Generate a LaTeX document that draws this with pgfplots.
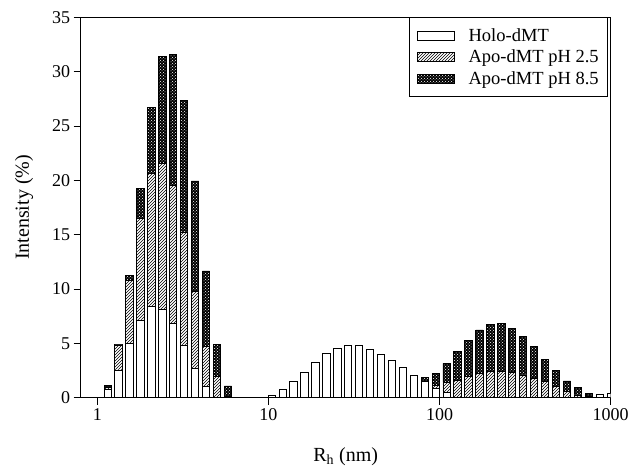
\documentclass[border=0pt]{standalone}
\usepackage{fontspec}
\setmainfont{Liberation Serif}
\usepackage{pgfplots}
\usepackage{pgfplotstable}
\pgfplotsset{compat=1.18}
\usetikzlibrary{patterns}

% x = bin centre R_h (nm); stacked intensities (%)
\pgfplotstableread{
x      holo  a25   a85
1.150  0.75  0.22  0.13
1.332  2.55  2.30  0.09
1.543  5.00  5.75  0.47
1.788  7.15  9.35  2.73
2.071  8.40  12.20 6.14
2.399  8.10  13.45 9.82
2.780  6.85  12.70 12.05
3.220  4.85  10.40 12.11
3.731  2.70  7.05  10.19
4.322  1.00  3.70  6.96
5.007  0.05  1.90  2.95
5.800  0.00  0.08  1.00
10.45  0.18  0.00  0.00
12.11  0.80  0.00  0.00
14.03  1.47  0.00  0.00
16.25  2.36  0.00  0.00
18.83  3.28  0.00  0.00
21.81  4.08  0.00  0.00
25.27  4.57  0.00  0.00
29.27  4.79  0.00  0.00
33.91  4.79  0.00  0.00
39.29  4.48  0.00  0.00
45.51  4.02  0.00  0.00
52.72  3.40  0.00  0.00
61.08  2.80  0.00  0.00
70.76  2.09  0.00  0.00
81.97  1.47  0.00  0.43
94.97  0.86  0.30  1.08
110.0  0.50  0.90  1.76
127.4  0.05  1.50  2.68
147.6  0.00  1.93  3.37
171.1  0.00  2.24  3.99
198.2  0.00  2.40  4.35
229.6  0.00  2.45  4.39
266.0  0.00  2.30  4.11
308.2  0.00  2.09  3.52
357.0  0.00  1.78  2.91
413.6  0.00  1.47  2.06
479.2  0.00  1.00  1.48
555.2  0.00  0.55  0.99
643.2  0.00  0.25  0.67
745.1  0.00  0.10  0.30
863.3  0.30  0.00  0.00
1000   0.40  0.00  0.00
}\dls

\begin{document}
\begin{tikzpicture}[font=\fontsize{18}{21}\selectfont]
\begin{axis}[
  scale only axis,
  width=530pt, height=380.4pt,
  xmode=log, xmin=0.8, xmax=1000,
  ymin=0, ymax=35,
  ybar stacked, bar width=7.3pt,
  xtick={1,10,100,1000}, xticklabels={1,10,100,1000},
  xminorticks=false,
  ytick={0,5,...,35},
  tick align=outside, xtick pos=bottom, ytick pos=left,
  major tick length=7pt,
  axis line style={line width=0.8pt},
  every tick/.style={black, line width=0.8pt},
  /pgf/number format/assume math mode=true,
  xlabel={R\textsubscript{h} (nm)},
  ylabel={Intensity (\%)},
  label style={font=\fontsize{20}{23}\selectfont},
  xlabel style={yshift=-20pt},
  ylabel style={yshift=12pt},
  legend style={at={(0.995,1)}, anchor=north east, draw=black, line width=0.8pt,
    inner xsep=7pt, inner ysep=9pt, row sep=3pt, column sep=12pt,
    font=\fontsize{18.5}{21}\selectfont},
  legend cell align=left,
  legend image code/.code={\draw[#1] (0pt,-4.5pt) rectangle (37pt,4.5pt);},
  every axis plot/.append style={draw=black, line width=0.9pt},
]
\addplot[fill=white] table[x=x, y=holo] {\dls};
\addplot[fill=white, postaction={pattern=north east lines}] table[x=x, y=a25] {\dls};
\addplot[fill=black, postaction={pattern=crosshatch dots, pattern color=white}] table[x=x, y=a85] {\dls};
\legend{Holo-dMT, Apo-dMT pH 2.5, Apo-dMT pH 8.5}
\coordinate (BL) at (rel axis cs:0,0);
\coordinate (TR) at (rel axis cs:1,1);
\end{axis}
\pgfresetboundingbox
\path[use as bounding box] ([shift={(-80.7pt,-75.3pt)}]BL) rectangle ([shift={(20.3pt,17.3pt)}]TR);
\end{tikzpicture}
\end{document}
